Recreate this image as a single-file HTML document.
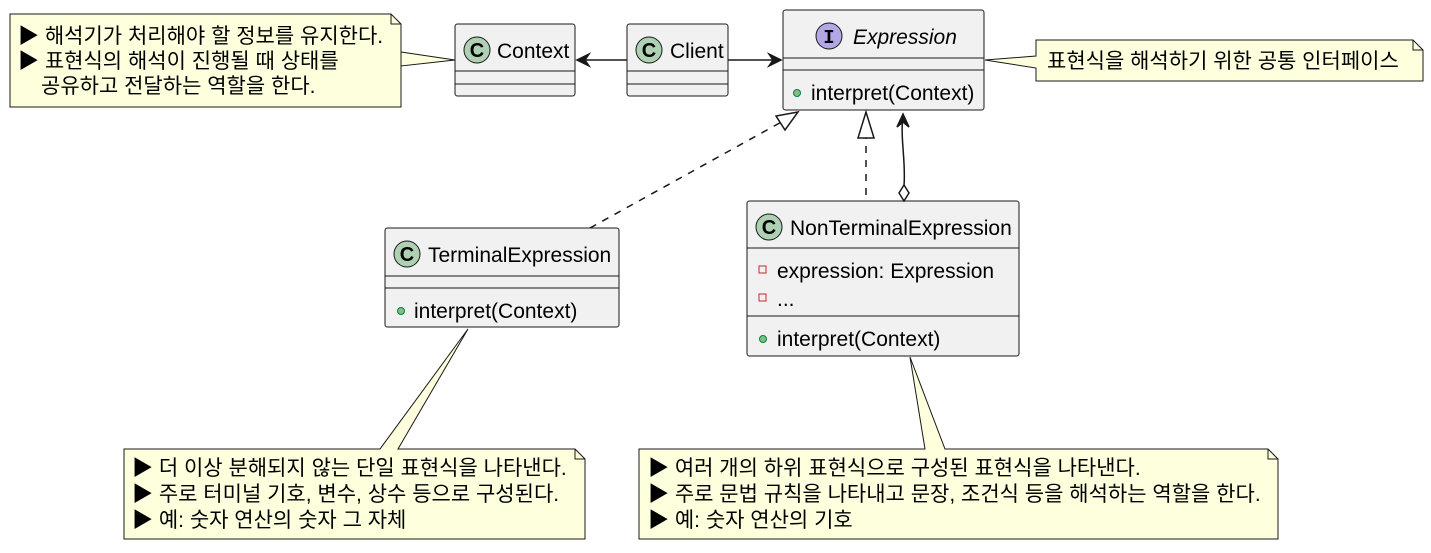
<!DOCTYPE html>
<html><head><meta charset="utf-8"><style>
body{margin:0;background:#fff}
svg text{font-family:"Liberation Sans","Noto Sans CJK KR",sans-serif;font-size:21px;fill:#000}
</style></head><body>
<svg width="1431" height="548" xmlns="http://www.w3.org/2000/svg">
<defs>
<g id="cc"><circle r="13" fill="#ADD1B2" stroke="#181818" stroke-width="1"/><text x="0" y="7" text-anchor="middle" style="font-size:20px;font-weight:bold">C</text></g>
</defs>
<g stroke="#181818" stroke-width="1" fill="#FEFFDD">
<path d="M10,14 H391 L401,24 V107 H10 Z"/>
<path d="M401,52 L455,60 L401,66 Z"/>
<path d="M391,14 V24 H401" fill="none"/>
<path d="M1036,40 H1413 L1423,50 V81 H1036 V68 L985,60 L1036,56 Z"/>
<path d="M1413,40 V50 H1423" fill="none"/>
<path d="M124,449 H380 L468,329 L398,449 H575 L585,459 V539 H124 Z"/>
<path d="M575,449 V459 H585" fill="none"/>
<path d="M639,449 H925 L910,357 L945,449 H1268 L1278,459 V539 H639 Z"/>
<path d="M1268,449 V459 H1278" fill="none"/>
</g>
<text x="18" y="43">▶ 해석기가 처리해야 할 정보를 유지한다.</text>
<text x="18" y="68">▶ 표현식의 해석이 진행될 때 상태를</text>
<text x="41" y="93">공유하고 전달하는 역할을 한다.</text>
<text x="1047" y="68">표현식을 해석하기 위한 공통 인터페이스</text>
<text x="132" y="475">▶ 더 이상 분해되지 않는 단일 표현식을 나타낸다.</text>
<text x="132" y="501">▶ 주로 터미널 기호, 변수, 상수 등으로 구성된다.</text>
<text x="132" y="527">▶ 예: 숫자 연산의 숫자 그 자체</text>
<text x="648" y="475">▶ 여러 개의 하위 표현식으로 구성된 표현식을 나타낸다.</text>
<text x="648" y="501">▶ 주로 문법 규칙을 나타내고 문장, 조건식 등을 해석하는 역할을 한다.</text>
<text x="648" y="527">▶ 예: 숫자 연산의 기호</text>
<g stroke="#181818" stroke-width="1" fill="#F1F1F1">
<rect x="455" y="24" width="120" height="72" rx="2.5"/>
<rect x="627" y="24" width="101" height="72" rx="2.5"/>
<rect x="783" y="10" width="201" height="100" rx="2.5"/>
<rect x="385" y="228" width="234" height="99" rx="2.5"/>
<rect x="747" y="201" width="272" height="155" rx="2.5"/>
<path d="M455,71H575M455,84H575M627,71H728M627,84H728M783,58H984M783,70H984M385,276H619M385,288H619M747,248H1019M747,316H1019" fill="none"/>
</g>
<use href="#cc" x="477" y="50"/><text x="497" y="58">Context</text>
<use href="#cc" x="649" y="50"/><text x="670" y="58">Client</text>
<circle cx="829" cy="36" r="13" fill="#B4A7E5" stroke="#181818"/>
<text x="829" y="43" text-anchor="middle" style="font-family:'Liberation Mono',monospace;font-size:19px;font-weight:bold">I</text>
<text x="853" y="44" style="font-style:italic">Expression</text>
<circle cx="797" cy="93" r="3.5" fill="#84BE84" stroke="#038048"/>
<text x="811" y="100">interpret(Context)</text>
<use href="#cc" x="407" y="254"/><text x="428" y="262">TerminalExpression</text>
<circle cx="401" cy="311" r="3.5" fill="#84BE84" stroke="#038048"/>
<text x="414" y="318">interpret(Context)</text>
<use href="#cc" x="769" y="227"/><text x="790" y="235">NonTerminalExpression</text>
<rect x="759" y="266" width="7" height="7" fill="none" stroke="#C82930"/>
<text x="777" y="278">expression: Expression</text>
<rect x="759" y="294" width="7" height="7" fill="none" stroke="#C82930"/>
<text x="777" y="306">...</text>
<circle cx="763" cy="339" r="3.5" fill="#84BE84" stroke="#038048"/>
<text x="777" y="346">interpret(Context)</text>
<g stroke="#181818" stroke-width="1.5" fill="none">
<path d="M627,60H577"/>
<path d="M589,54 L577,60 L589,66 L585,60 Z" fill="#181818"/>
<path d="M728,60H781"/>
<path d="M769,54 L781,60 L769,66 L773,60 Z" fill="#181818"/>
<path d="M590,228 L785,120" stroke-dasharray="7,7"/>
<path d="M798,112 L776,116 L785,130 Z" fill="#fff"/>
<path d="M866,195 V138" stroke-dasharray="7,7"/>
<path d="M866,112 L858,138 L874,138 Z" fill="#fff"/>
<path d="M904,186 C906,160 900,140 903,114"/>
<path d="M897,127 L903,114 L909,127 L903,122 Z" fill="#181818"/>
<path d="M904,201 L899,193 L904,185 L909,193 Z" fill="#fff"/>
</g>
</svg>
</body></html>
